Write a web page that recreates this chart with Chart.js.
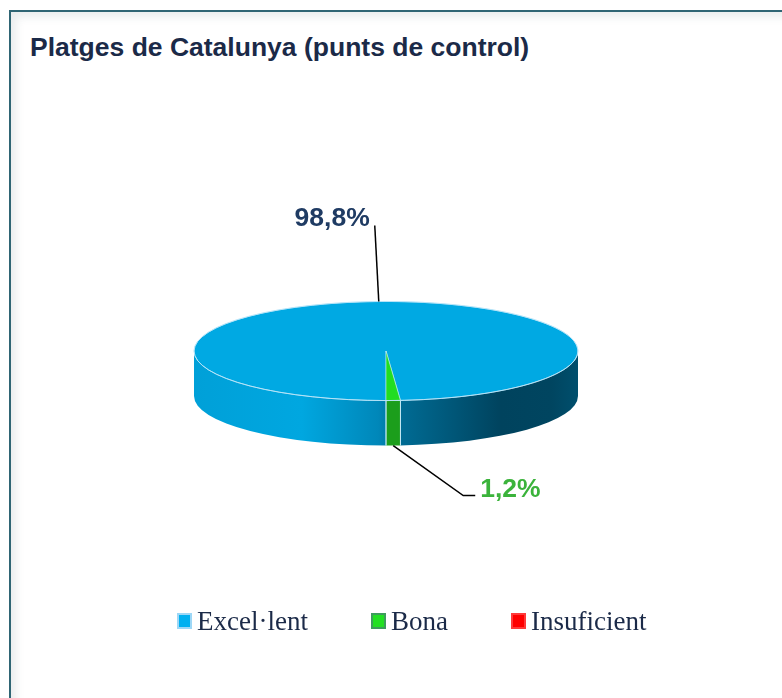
<!DOCTYPE html>
<html>
<head>
<meta charset="utf-8">
<script src="https://cdn.jsdelivr.net/npm/chart.js@4.4.0/dist/chart.umd.min.js"></script>
<style>
html, body { margin: 0; padding: 0; width: 782px; height: 698px; overflow: hidden; background: #fff; }
#frame {
    position: absolute; left: 9px; top: 10px; width: 800px; height: 720px;
    border: 2px solid #2f6574;
    box-shadow: inset 5px 5px 8px rgba(40, 70, 80, 0.10);
}
#title {
    position: absolute; left: 30px; top: 32px;
    font: bold 26.5px "Liberation Sans", Arial, sans-serif; line-height: 30px;
    color: #1b2a48; white-space: nowrap;
}
#chart { position: absolute; left: 0; top: 0; }
#legend {
    position: absolute; left: 177px; top: 606px; display: flex;
    font: 27px "Liberation Serif", "Times New Roman", serif; line-height: 30px;
    color: #1b2a48; white-space: nowrap;
}
.item { display: flex; align-items: center; margin-right: 63px; }
.box { width: 15px; height: 16px; box-sizing: border-box; border: 2px solid; margin-right: 5px; }
</style>
</head>
<body>
<div id="frame"></div>
<div id="title">Platges de Catalunya (punts de control)</div>
<canvas id="chart" width="782" height="698"></canvas>
<div id="legend"></div>
<script>
// data
const categories = ['Excel·lent', 'Bona', 'Insuficient'];
const shares = [98.8, 1.2, 0];

// styles
const topColors = ['#00a9e3', '#22dd22', '#ff0000'];
const legendFill = ['#00b0f0', '#22e022', '#ff0000'];
const legendEdge = ['#9dd7f6', '#3d9c5c', '#ff3a3a'];
const labelColors = ['#1f3b63', '#3bb33b', '#c00000'];

const TILT = 49.5 / 191.8;  // squash of the top face
const DEPTH = 45;           // height of the side wall

// where each label sits relative to its slice
const labelSpots = [
    { dx: -4, dy: -76, tail: 0, side: 'left' },
    { dx: 70, dy: 50, tail: 12, side: 'right' },
    { dx: 70, dy: 50, tail: 12, side: 'right' }
];

function formatShare(v) {
    return v.toFixed(1).replace('.', ',') + '%';
}

// parts of [s, e] that face the viewer (lower half of the ellipse)
function frontPieces(s, e) {
    const out = [];
    for (let k = -1; k <= 2; k++) {
        const a = Math.max(s, 2 * Math.PI * k);
        const b = Math.min(e, 2 * Math.PI * k + Math.PI);
        if (b > a) out.push([a, b]);
    }
    return out;
}

function sideFill(ctx, i, cx, rx) {
    if (i === 0) {
        const g = ctx.createLinearGradient(cx - rx, 0, cx + rx, 0);
        g.addColorStop(0, '#00a0d8');
        g.addColorStop(0.28, '#00a7e0');
        g.addColorStop(0.48, '#0087b9');
        g.addColorStop(0.53, '#006d96');
        g.addColorStop(0.8, '#00435e');
        g.addColorStop(0.93, '#004560');
        g.addColorStop(1, '#004f6d');
        return g;
    }
    return i === 1 ? '#1c9e1c' : '#b00000';
}

const pie3d = {
    id: 'pie3d',
    beforeDatasetsDraw(chart) {
        const ctx = chart.ctx;
        const arcs = chart.getDatasetMeta(0).data;
        const cx = arcs[0].x, cy = arcs[0].y, rx = arcs[0].outerRadius;
        const ry = rx * TILT;

        arcs.forEach((arc, i) => {
            if (arc.endAngle - arc.startAngle <= 0) return;
            frontPieces(arc.startAngle, arc.endAngle).forEach(([a, b]) => {
                ctx.beginPath();
                ctx.ellipse(cx, cy, rx, ry, 0, a, b);
                ctx.ellipse(cx, cy + DEPTH, rx, ry, 0, b, a, true);
                ctx.closePath();
                ctx.fillStyle = sideFill(ctx, i, cx, rx);
                ctx.fill();
            });
        });

        // light seams between the side walls
        ctx.strokeStyle = 'rgba(200, 235, 250, 0.8)';
        ctx.lineWidth = 1;
        arcs.forEach(arc => {
            if (arc.endAngle - arc.startAngle <= 0) return;
            [arc.startAngle, arc.endAngle].forEach(t => {
                if (Math.sin(t) > 0.001) {
                    const x = cx + rx * Math.cos(t), y = cy + ry * Math.sin(t);
                    ctx.beginPath();
                    ctx.moveTo(x, y);
                    ctx.lineTo(x, y + DEPTH);
                    ctx.stroke();
                }
            });
        });

        // squash the library's own pie into the top face
        ctx.save();
        ctx.translate(cx, cy);
        ctx.scale(1, TILT);
        ctx.translate(-cx, -cy);
    },
    afterDatasetsDraw(chart) {
        const ctx = chart.ctx;
        ctx.restore();

        const arcs = chart.getDatasetMeta(0).data;
        const cx = arcs[0].x, cy = arcs[0].y, rx = arcs[0].outerRadius;
        const ry = rx * TILT;

        // rim highlight
        ctx.beginPath();
        ctx.ellipse(cx, cy, rx, ry, 0, 0, 2 * Math.PI);
        ctx.strokeStyle = 'rgba(185, 228, 248, 0.9)';
        ctx.lineWidth = 1;
        ctx.stroke();

        // labels with leader lines
        ctx.font = 'bold 26.5px "Liberation Sans", Arial, sans-serif';
        ctx.textBaseline = 'alphabetic';
        arcs.forEach((arc, i) => {
            if (!shares[i]) return;
            const m = (arc.startAngle + arc.endAngle) / 2;
            const ax = cx + rx * Math.cos(m);
            const ay = cy + ry * Math.sin(m) + (Math.sin(m) > 0 ? DEPTH : 0);
            const spot = labelSpots[i];
            const ex = ax + spot.dx, ey = ay + spot.dy;
            const tx = ex + spot.tail;

            ctx.beginPath();
            ctx.moveTo(ax, ay);
            ctx.lineTo(ex, ey);
            if (spot.tail) ctx.lineTo(tx, ey);
            ctx.strokeStyle = '#000';
            ctx.lineWidth = 1.5;
            ctx.stroke();

            ctx.fillStyle = labelColors[i];
            if (spot.side === 'left') {
                ctx.textAlign = 'right';
                ctx.fillText(formatShare(shares[i]), tx - 5, ey + 1);
            } else {
                ctx.textAlign = 'left';
                ctx.fillText(formatShare(shares[i]), tx + 5, ey + 1);
            }
        });
    }
};

new Chart(document.getElementById('chart'), {
    type: 'pie',
    data: {
        labels: categories,
        datasets: [{
            data: shares,
            backgroundColor: topColors,
            borderColor: 'rgba(200, 235, 250, 0.9)',
            borderWidth: 1,
            clip: false
        }]
    },
    options: {
        responsive: false,
        animation: false,
        rotation: 180,
        radius: 192,
        layout: { padding: { top: 4, right: 10, bottom: 0, left: 0 } },
        plugins: {
            legend: { display: false },
            tooltip: { enabled: false }
        }
    },
    plugins: [pie3d]
});

// legend in html
const legend = document.getElementById('legend');
categories.forEach((name, i) => {
    const item = document.createElement('div');
    item.className = 'item';
    const box = document.createElement('span');
    box.className = 'box';
    box.style.background = legendFill[i];
    box.style.borderColor = legendEdge[i];
    item.appendChild(box);
    item.appendChild(document.createTextNode(name));
    legend.appendChild(item);
});
</script>
</body>
</html>
